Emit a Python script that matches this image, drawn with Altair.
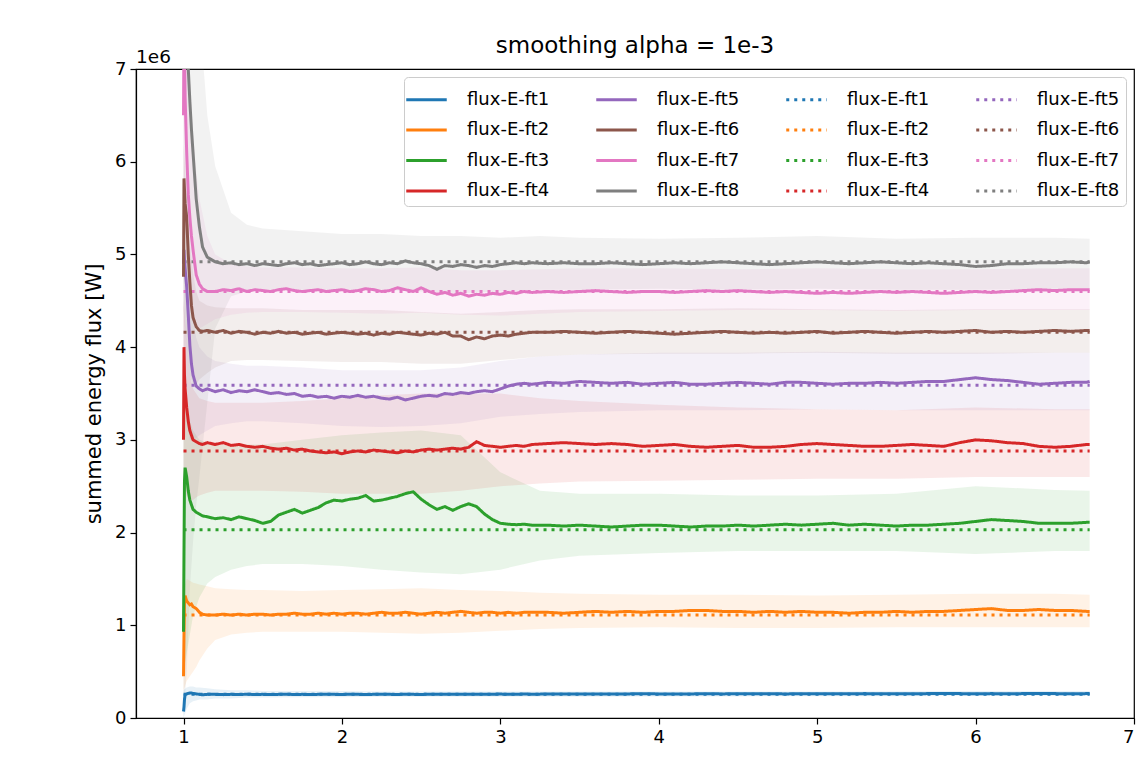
import altair as alt
import pandas as pd

# ---------------- data (values in units of 1e6 W) ----------------
LX = [1.0, 1.003, 1.006, 1.01, 1.02, 1.03, 1.04, 1.05, 1.06, 1.08, 1.1, 1.12, 1.15,
      1.2, 1.25, 1.3, 1.35, 1.4, 1.45, 1.5, 1.55, 1.6, 1.65, 1.7, 1.75, 1.8, 1.85, 1.9, 1.95,
      2.0, 2.05, 2.1, 2.15, 2.2, 2.25, 2.3, 2.35, 2.4, 2.45, 2.5, 2.55, 2.6, 2.65, 2.7, 2.75,
      2.8, 2.85, 2.9, 2.95, 3.0, 3.05, 3.1, 3.15, 3.2,
      3.3, 3.4, 3.5, 3.6, 3.7, 3.8, 3.9, 4.0, 4.1, 4.2, 4.3, 4.4, 4.5, 4.6, 4.7, 4.8, 4.9,
      5.0, 5.1, 5.2, 5.3, 5.4, 5.5, 5.6, 5.7, 5.8, 5.9, 6.0, 6.1, 6.2, 6.3, 6.4, 6.5, 6.6,
      6.7, 6.72]

FT1 = [0.07, 0.12, 0.2, 0.25, 0.26, 0.265, 0.27, 0.27, 0.265, 0.26, 0.255, 0.25, 0.255,
       0.255, 0.252, 0.255, 0.253, 0.256, 0.254, 0.255, 0.253, 0.255, 0.256, 0.254, 0.255, 0.253, 0.255,
       0.256, 0.255, 0.254, 0.256, 0.255, 0.254, 0.255, 0.257, 0.255, 0.254, 0.256, 0.255, 0.254, 0.256,
       0.255, 0.257, 0.256, 0.255, 0.257, 0.256, 0.255, 0.257, 0.258, 0.256, 0.257, 0.258, 0.257,
       0.258, 0.259, 0.258, 0.26, 0.259, 0.26, 0.261, 0.26, 0.259, 0.26, 0.261, 0.26, 0.261, 0.262,
       0.261, 0.26, 0.261, 0.262, 0.261, 0.262, 0.263, 0.262, 0.261, 0.262, 0.263, 0.264, 0.263, 0.262,
       0.263, 0.262, 0.263, 0.264, 0.263, 0.262, 0.263,
       0.263]
FT2 = [0.45, 0.9, 1.25, 1.32, 1.26, 1.24, 1.22, 1.23, 1.2, 1.18, 1.14, 1.12, 1.11,
       1.11, 1.12, 1.11, 1.12, 1.11, 1.12, 1.12, 1.11, 1.12, 1.12, 1.13, 1.12, 1.12, 1.13, 1.12, 1.13,
       1.12, 1.13, 1.13, 1.12, 1.13, 1.14, 1.13, 1.13, 1.14, 1.13, 1.12, 1.13, 1.14, 1.13, 1.14, 1.15,
       1.14, 1.13, 1.14, 1.14, 1.13, 1.14, 1.13, 1.14, 1.14,
       1.14, 1.13, 1.14, 1.15, 1.14, 1.15, 1.14, 1.15, 1.15, 1.16, 1.16, 1.15, 1.15, 1.14, 1.15, 1.14,
       1.15, 1.14, 1.14, 1.13, 1.14, 1.14, 1.15, 1.14, 1.15, 1.15, 1.16, 1.17, 1.18, 1.16, 1.16, 1.17,
       1.16, 1.16, 1.15,
       1.15]
FT3 = [0.93, 1.8, 2.55, 2.7, 2.6, 2.45, 2.35, 2.3, 2.25, 2.22, 2.2, 2.18, 2.17,
       2.15, 2.16, 2.14, 2.17, 2.15, 2.13, 2.1, 2.12, 2.19, 2.22, 2.25, 2.21, 2.24, 2.27, 2.32, 2.35,
       2.34, 2.36, 2.37, 2.4, 2.34, 2.35, 2.37, 2.39, 2.42, 2.44, 2.36, 2.3, 2.25, 2.28, 2.24, 2.28,
       2.31, 2.28, 2.2, 2.14, 2.1, 2.09, 2.085, 2.09, 2.08,
       2.08, 2.07, 2.08, 2.07, 2.06, 2.07, 2.08, 2.08, 2.07, 2.06, 2.07, 2.07, 2.08, 2.07, 2.08, 2.09,
       2.08, 2.09, 2.1, 2.08, 2.09, 2.08, 2.07, 2.08, 2.08, 2.09, 2.1, 2.12, 2.14, 2.13, 2.12, 2.1,
       2.1, 2.1, 2.11,
       2.11]
FT4 = [3.0, 4.0, 3.7, 3.55, 3.35, 3.2, 3.1, 3.05, 3.0, 2.98, 2.96, 2.95, 2.97,
       2.95, 2.97, 2.94, 2.95, 2.93, 2.92, 2.93, 2.91, 2.9, 2.91, 2.89, 2.9, 2.88, 2.87, 2.86, 2.87,
       2.85, 2.87, 2.88, 2.87, 2.89, 2.88, 2.87, 2.86, 2.88, 2.87, 2.89, 2.9, 2.89, 2.9, 2.91, 2.9,
       2.92, 2.98, 2.94, 2.93, 2.92, 2.93, 2.94, 2.93, 2.95,
       2.96, 2.97, 2.96, 2.95, 2.96, 2.95, 2.93, 2.94, 2.95, 2.93, 2.92, 2.93, 2.94, 2.92, 2.92, 2.93,
       2.95, 2.96, 2.95, 2.94, 2.93, 2.93, 2.94, 2.95, 2.94, 2.93, 2.97, 3.0, 2.99, 2.97, 2.96, 2.93,
       2.92, 2.93, 2.95,
       2.95]
FT5 = [4.9, 5.05, 4.95, 4.85, 4.65, 4.35, 4.02, 3.82, 3.7, 3.58, 3.55, 3.53, 3.55,
       3.52, 3.54, 3.51, 3.53, 3.52, 3.54, 3.52, 3.5, 3.51, 3.49, 3.5, 3.47, 3.48, 3.46, 3.47, 3.45,
       3.47, 3.46, 3.48, 3.46, 3.47, 3.45, 3.44, 3.46, 3.43, 3.45, 3.47, 3.48, 3.47, 3.5, 3.49, 3.51,
       3.5, 3.52, 3.53, 3.52, 3.55, 3.58, 3.6, 3.61, 3.6,
       3.62, 3.61, 3.63, 3.62, 3.61, 3.62, 3.6, 3.61, 3.62, 3.6, 3.6, 3.61, 3.62, 3.61, 3.6, 3.62,
       3.62, 3.61, 3.6, 3.61, 3.61, 3.62, 3.61, 3.62, 3.63, 3.63, 3.65, 3.67, 3.65, 3.64, 3.62, 3.6,
       3.61, 3.62, 3.62,
       3.63]
FT6 = [4.76, 5.82, 5.7, 5.55, 5.4, 5.0, 4.7, 4.45, 4.32, 4.22, 4.18, 4.17, 4.18,
       4.16, 4.18, 4.15, 4.17, 4.16, 4.14, 4.16, 4.15, 4.17, 4.15, 4.16, 4.14, 4.15, 4.16, 4.14, 4.15,
       4.16, 4.15, 4.14, 4.15, 4.13, 4.15, 4.14, 4.16, 4.15, 4.14, 4.13, 4.15, 4.14, 4.16, 4.12, 4.12,
       4.08, 4.11, 4.09, 4.12, 4.13, 4.12, 4.14, 4.15, 4.16,
       4.16, 4.17, 4.16, 4.15, 4.16, 4.17, 4.16, 4.15, 4.14, 4.15, 4.16, 4.17, 4.16, 4.15, 4.16, 4.15,
       4.16, 4.17, 4.15, 4.16, 4.17, 4.16, 4.15, 4.16, 4.17, 4.16, 4.17, 4.18, 4.16, 4.17, 4.16, 4.17,
       4.18, 4.17, 4.18,
       4.18]
FT7 = [6.5, 7.5, 7.2, 6.7, 6.1, 5.65, 5.4, 5.2, 5.05, 4.78, 4.68, 4.63, 4.6,
       4.6, 4.62, 4.61, 4.63, 4.6, 4.62, 4.61, 4.6, 4.62, 4.63, 4.61, 4.6, 4.61, 4.62, 4.6, 4.61,
       4.62, 4.6, 4.61, 4.63, 4.62, 4.6, 4.61, 4.64, 4.62, 4.6, 4.64, 4.6, 4.57, 4.59, 4.56, 4.58,
       4.55, 4.57, 4.56, 4.58, 4.57, 4.59, 4.58, 4.6, 4.59,
       4.6, 4.59, 4.6, 4.61, 4.6, 4.59, 4.6, 4.6, 4.59, 4.6, 4.61, 4.6, 4.61, 4.6, 4.59, 4.6,
       4.59, 4.58, 4.59, 4.58, 4.59, 4.6, 4.59, 4.6, 4.59, 4.58, 4.59, 4.6, 4.59, 4.6, 4.61, 4.62,
       4.61, 4.62, 4.62,
       4.62]
FT8 = [9.5, 9.3, 9.0, 8.7, 7.9, 7.0, 6.65, 6.35, 6.1, 5.6, 5.3, 5.08, 4.97,
       4.92, 4.9, 4.91, 4.89, 4.9, 4.88, 4.9, 4.89, 4.88, 4.9, 4.91, 4.89, 4.9, 4.88, 4.89, 4.9,
       4.91, 4.89, 4.9, 4.92, 4.9, 4.89, 4.91, 4.9, 4.93, 4.91, 4.9, 4.88, 4.84, 4.88, 4.87, 4.89,
       4.88, 4.86, 4.88, 4.87, 4.89, 4.9, 4.91, 4.9, 4.91,
       4.9, 4.91, 4.9, 4.9, 4.91, 4.9, 4.89, 4.9, 4.91, 4.9, 4.91, 4.92, 4.91, 4.9, 4.89, 4.9,
       4.91, 4.92, 4.91, 4.9, 4.91, 4.92, 4.91, 4.9, 4.91, 4.9, 4.89, 4.87, 4.88, 4.9, 4.9, 4.91,
       4.91, 4.92, 4.91,
       4.92]

# band (spread) bounds on a coarser grid
BX = [1.0, 1.02, 1.04, 1.06, 1.08, 1.1, 1.15, 1.2, 1.3, 1.4, 1.5, 1.75, 2.0, 2.25, 2.5, 2.75,
      3.0, 3.25, 3.5, 4.0, 4.5, 5.0, 5.5, 6.0, 6.5, 6.72]
UP1 = [0.3, 0.33, 0.34, 0.34, 0.33, 0.33, 0.32, 0.31, 0.3, 0.3, 0.29, 0.29, 0.29, 0.285, 0.285, 0.285,
       0.285, 0.285, 0.285, 0.285, 0.287, 0.287, 0.288, 0.29, 0.29, 0.29]
LO1 = [0.0, 0.1, 0.16, 0.18, 0.19, 0.2, 0.2, 0.21, 0.21, 0.22, 0.22, 0.225, 0.225, 0.228, 0.228, 0.228,
       0.23, 0.23, 0.23, 0.232, 0.233, 0.234, 0.235, 0.236, 0.236, 0.236]
UP2 = [1.4, 1.5, 1.48, 1.46, 1.45, 1.44, 1.42, 1.4, 1.39, 1.38, 1.38, 1.37, 1.38, 1.39, 1.4, 1.38,
       1.37, 1.35, 1.34, 1.33, 1.33, 1.32, 1.33, 1.34, 1.34, 1.33]
LO2 = [0.3, 0.4, 0.45, 0.5, 0.55, 0.62, 0.75, 0.84, 0.9, 0.92, 0.93, 0.93, 0.93, 0.92, 0.91, 0.92,
       0.94, 0.96, 0.97, 0.98, 0.97, 0.97, 0.98, 0.98, 0.98, 0.98]
UP3 = [3.4, 3.3, 3.2, 3.1, 3.05, 3.0, 2.97, 2.95, 2.95, 2.95, 2.95, 3.0, 3.05, 3.08, 3.1, 3.05,
       2.65, 2.45, 2.42, 2.42, 2.4, 2.4, 2.42, 2.5, 2.46, 2.45]
LO3 = [0.5, 0.7, 0.9, 1.1, 1.2, 1.3, 1.45, 1.52, 1.6, 1.64, 1.66, 1.66, 1.64, 1.6, 1.57, 1.55,
       1.6, 1.7, 1.75, 1.78, 1.8, 1.8, 1.8, 1.77, 1.8, 1.8]
UP4 = [4.5, 4.0, 3.7, 3.55, 3.5, 3.45, 3.42, 3.4, 3.4, 3.4, 3.4, 3.42, 3.45, 3.48, 3.5, 3.5,
       3.5, 3.45, 3.42, 3.38, 3.35, 3.33, 3.32, 3.35, 3.33, 3.33]
LO4 = [2.6, 2.4, 2.35, 2.35, 2.38, 2.4, 2.43, 2.45, 2.45, 2.45, 2.45, 2.44, 2.42, 2.42, 2.42, 2.45,
       2.5, 2.53, 2.55, 2.56, 2.57, 2.58, 2.58, 2.6, 2.6, 2.6]
UP5 = [5.3, 5.0, 4.6, 4.3, 4.1, 4.0, 3.9, 3.85, 3.82, 3.8, 3.8, 3.78, 3.75, 3.75, 3.75, 3.78,
       3.85, 3.9, 3.92, 3.94, 3.94, 3.95, 3.94, 3.94, 3.94, 3.94]
LO5 = [3.6, 3.2, 3.0, 3.0, 3.02, 3.05, 3.1, 3.15, 3.18, 3.2, 3.2, 3.18, 3.15, 3.14, 3.15, 3.18,
       3.25, 3.28, 3.3, 3.32, 3.32, 3.33, 3.32, 3.32, 3.32, 3.32]
UP6 = [6.2, 5.6, 5.1, 4.8, 4.6, 4.5, 4.45, 4.43, 4.42, 4.42, 4.42, 4.4, 4.4, 4.4, 4.38, 4.36,
       4.38, 4.4, 4.41, 4.41, 4.42, 4.41, 4.4, 4.41, 4.41, 4.41]
LO6 = [4.4, 4.0, 3.7, 3.6, 3.6, 3.65, 3.72, 3.78, 3.85, 3.86, 3.86, 3.85, 3.84, 3.84, 3.82, 3.82,
       3.86, 3.9, 3.92, 3.93, 3.93, 3.94, 3.93, 3.93, 3.94, 3.94]
UP7 = [8.0, 7.5, 6.9, 6.3, 5.9, 5.6, 5.2, 5.0, 4.9, 4.87, 4.86, 4.86, 4.85, 4.85, 4.86, 4.83,
       4.83, 4.84, 4.85, 4.85, 4.84, 4.85, 4.84, 4.84, 4.85, 4.85]
LO7 = [5.5, 5.0, 4.6, 4.3, 4.2, 4.2, 4.25, 4.3, 4.35, 4.37, 4.38, 4.38, 4.37, 4.36, 4.37, 4.35,
       4.34, 4.36, 4.38, 4.39, 4.4, 4.4, 4.39, 4.4, 4.4, 4.4]
UP8 = [12.0, 12.0, 11.0, 10.0, 9.0, 7.6, 6.5, 5.95, 5.45, 5.32, 5.28, 5.25, 5.22, 5.22, 5.2, 5.2,
       5.18, 5.2, 5.18, 5.17, 5.18, 5.2, 5.17, 5.18, 5.18, 5.17]
LO8 = [0.0, 0.5, 1.4, 1.9, 2.3, 2.6, 3.4, 4.2, 4.55, 4.6, 4.62, 4.62, 4.62, 4.62, 4.6, 4.58,
       4.6, 4.62, 4.62, 4.63, 4.62, 4.63, 4.62, 4.62, 4.63, 4.63]

# dotted reference levels
MEAN = [0.255, 1.11, 2.03, 2.88, 3.59, 4.16, 4.60, 4.92]
MX = [1.0, 6.72]

NAMES = ["flux-E-ft1", "flux-E-ft2", "flux-E-ft3", "flux-E-ft4",
         "flux-E-ft5", "flux-E-ft6", "flux-E-ft7", "flux-E-ft8"]
COLORS = ["#1f77b4", "#ff7f0e", "#2ca02c", "#d62728",
          "#9467bd", "#8c564b", "#e377c2", "#7f7f7f"]

SERIES = [FT1, FT2, FT3, FT4, FT5, FT6, FT7, FT8]
UPS = [UP1, UP2, UP3, UP4, UP5, UP6, UP7, UP8]
LOS = [LO1, LO2, LO3, LO4, LO5, LO6, LO7, LO8]

for i, s in enumerate(SERIES):
    if len(s) != len(LX):
        raise ValueError(f"series {i+1}: {len(s)} != {len(LX)}")
for i, (u, l) in enumerate(zip(UPS, LOS)):
    if len(u) != len(BX) or len(l) != len(BX):
        raise ValueError(f"band {i+1}: {len(u)}, {len(l)} != {len(BX)}")

# ---------------- tables ----------------
line_rows, band_rows, mean_rows = [], [], []
for i in range(8):
    key = f"s{i+1}"
    for x, y in zip(LX, SERIES[i]):
        line_rows.append({"x": x, "y": y, "key": key})
    for x, lo, hi in zip(BX, LOS[i], UPS[i]):
        band_rows.append({"x": x, "lo": lo, "hi": hi, "band": f"b{i+1}"})
    for x in MX:
        mean_rows.append({"x": x, "y": MEAN[i], "key": f"d{i+1}"})
lines_df = pd.DataFrame(line_rows)
bands_df = pd.DataFrame(band_rows)
means_df = pd.DataFrame(mean_rows)

# legend entries: filled column by column (4 rows x 4 columns)
order = [f"s{i+1}" for i in range(8)] + [f"d{i+1}" for i in range(8)]
color_range = [COLORS[int(k[1:]) - 1] for k in order]
dash_range = [[1, 0] if k[0] == "s" else [3, 5] for k in order]

color_scale = alt.Scale(domain=order, range=color_range)
dash_scale = alt.Scale(domain=order, range=dash_range)
fill_scale = alt.Scale(domain=[f"b{i+1}" for i in range(8)], range=COLORS)

FONT = "DejaVu Sans"
SW = 3

legend = alt.Legend(
    title=None, orient="top-right", offset=8, columns=4, direction="vertical",
    symbolType="M-1.35,0L1.35,0", symbolSize=900, symbolStrokeWidth=SW,
    labelFont=FONT, labelFontSize=18, labelColor="black", labelOffset=24,
    labelExpr="'flux-E-ft' + substring(datum.label, 1)", labelLimit=0,
    columnPadding=40, rowPadding=4.5, padding=6,
    strokeColor="#cccccc", fillColor="rgba(255,255,255,0.8)", cornerRadius=4,
)

xs = alt.Scale(domain=[0.7, 7], nice=False, zero=False)
ys = alt.Scale(domain=[0, 7], nice=False)
xaxis = alt.Axis(values=[1, 2, 3, 4, 5, 6, 7], title=None, format="d")
yaxis = alt.Axis(values=[0, 1, 2, 3, 4, 5, 6, 7], title="summed energy flux  [W]", format="d")

bands = alt.Chart(bands_df).mark_area(opacity=0.1, clip=True).encode(
    x=alt.X("x:Q", scale=xs, axis=xaxis),
    y=alt.Y("lo:Q", scale=ys, axis=yaxis),
    y2="hi:Q",
    fill=alt.Fill("band:N", scale=fill_scale, legend=None),
)

means = alt.Chart(means_df).mark_line(strokeWidth=SW, clip=True).encode(
    x=alt.X("x:Q", scale=xs),
    y=alt.Y("y:Q", scale=ys),
    color=alt.Color("key:N", scale=color_scale, legend=legend),
    strokeDash=alt.StrokeDash("key:N", scale=dash_scale, legend=legend),
)

lines = alt.Chart(lines_df).mark_line(strokeWidth=SW, clip=True).encode(
    x=alt.X("x:Q", scale=xs),
    y=alt.Y("y:Q", scale=ys),
    color=alt.Color("key:N", scale=color_scale, legend=legend),
    strokeDash=alt.StrokeDash("key:N", scale=dash_scale, legend=legend),
)

exp_label = alt.Chart(pd.DataFrame({"t": ["1e6"]})).mark_text(
    align="left", baseline="bottom", font=FONT, fontSize=18.5, color="black"
).encode(x=alt.value(0), y=alt.value(-2), text="t:N")

chart = alt.layer(bands, means, lines, exp_label).properties(
    width=998, height=649,
    title=alt.TitleParams("smoothing alpha = 1e-3", font=FONT, fontSize=23,
                          fontWeight="normal", color="black", anchor="middle", offset=-10),
    autosize=alt.AutoSizeParams(type="none"),
    padding={"left": 136, "top": 69, "right": 11, "bottom": 39},
).configure_view(
    stroke="black", strokeWidth=1.2
).configure_axis(
    grid=False, domainColor="black", domainWidth=1.2, tickColor="black", tickSize=6,
    tickWidth=1.2, labelFont=FONT, labelFontSize=18, labelColor="black", labelPadding=4,
    titleFont=FONT, titleFontSize=21, titleFontWeight="normal", titleColor="black",
).configure_axisY(titlePadding=10)

chart.save("out.html", embed_options={"renderer": "svg", "actions": False})
